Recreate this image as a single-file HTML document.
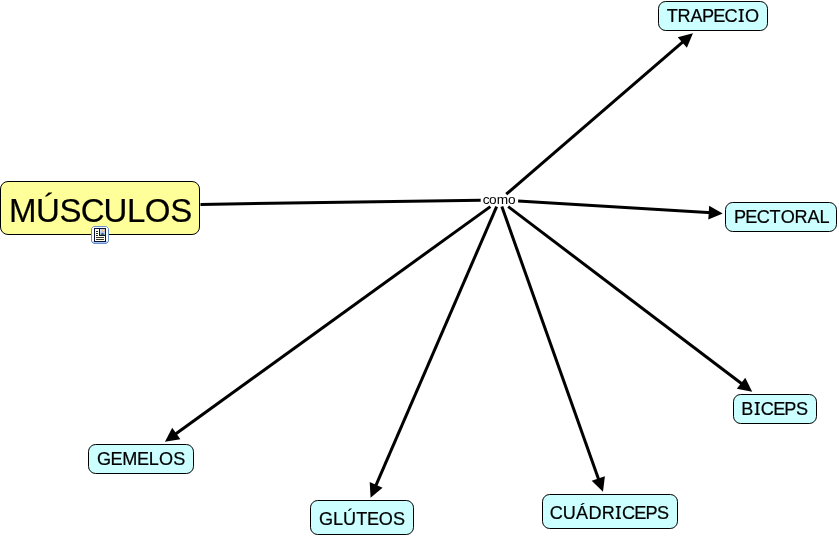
<!DOCTYPE html>
<html><head><meta charset="utf-8"><style>
html,body{margin:0;padding:0;background:#fff;width:839px;height:536px;overflow:hidden}
svg{display:block;will-change:transform}
text{font-family:"Liberation Sans",sans-serif;fill:#000}
</style></head><body>
<svg width="839" height="536" viewBox="0 0 839 536">
<line x1="200.5" y1="204.4" x2="480.70" y2="200.28" stroke="#000" stroke-width="3.0"/>
<line x1="506.23" y1="194.20" x2="684.59" y2="40.48" stroke="#000" stroke-width="3.0"/>
<polygon points="692.93,33.30 686.89,47.74 677.75,37.14" fill="#000"/>
<line x1="518.10" y1="201.12" x2="711.72" y2="212.82" stroke="#000" stroke-width="3.0"/>
<polygon points="722.70,213.48 708.30,219.62 709.15,205.65" fill="#000"/>
<line x1="508.20" y1="206.60" x2="743.43" y2="385.05" stroke="#000" stroke-width="3.0"/>
<polygon points="752.20,391.70 736.81,388.82 745.27,377.66" fill="#000"/>
<line x1="490.36" y1="206.60" x2="173.86" y2="435.26" stroke="#000" stroke-width="3.0"/>
<polygon points="164.95,441.70 172.20,427.83 180.39,439.18" fill="#000"/>
<line x1="496.64" y1="206.60" x2="374.95" y2="487.61" stroke="#000" stroke-width="3.0"/>
<polygon points="370.57,497.70 369.71,482.07 382.56,487.63" fill="#000"/>
<line x1="501.84" y1="206.60" x2="599.30" y2="481.33" stroke="#000" stroke-width="3.0"/>
<polygon points="602.98,491.70 591.70,480.85 604.89,476.17" fill="#000"/>
<text x="482.68 489.06 496.64 508.02" y="203.80" font-size="13.7">como</text>
<rect x="0.5" y="181.5" width="199" height="53" rx="7.5" ry="7.5" fill="#FFFF99" stroke="#000" stroke-width="1"/><text x="8.95 35.97 59.54 80.74 103.62 126.99 144.83 170.20" y="222.00" font-size="33" stroke="#000" stroke-width="0.2">MÚSCULOS</text>
<rect x="658.5" y="1.5" width="109" height="29" rx="7.2" ry="7.2" fill="#CCFFFF" stroke="#000" stroke-width="1"/><text x="666.75 677.54 690.45 702.04 713.15 724.62 738.71 745.06" y="22.00" font-size="18.1" stroke="#000" stroke-width="0.2">TRAPECIO</text><rect x="738.68" y="9.00" width="5.1" height="1.5" fill="#000"/><rect x="738.68" y="20.50" width="5.1" height="1.5" fill="#000"/>
<rect x="725.5" y="202.5" width="111" height="29" rx="7.2" ry="7.2" fill="#CCFFFF" stroke="#000" stroke-width="1"/><text x="734.11 745.22 756.69 769.53 780.64 794.49 807.40 819.57" y="223.00" font-size="18.1" stroke="#000" stroke-width="0.2">PECTORAL</text>
<rect x="733.5" y="394.5" width="83" height="29" rx="7.2" ry="7.2" fill="#CCFFFF" stroke="#000" stroke-width="1"/><text x="741.24 754.73 760.78 773.25 784.36 795.94" y="415.00" font-size="18.1" stroke="#000" stroke-width="0.2">BICEPS</text><rect x="754.69" y="402.00" width="5.1" height="1.5" fill="#000"/><rect x="754.69" y="413.50" width="5.1" height="1.5" fill="#000"/>
<rect x="88.5" y="444.5" width="105" height="29" rx="7.2" ry="7.2" fill="#CCFFFF" stroke="#000" stroke-width="1"/><text x="96.90 110.57 122.34 137.12 148.82 158.91 173.15" y="465.00" font-size="18.1" stroke="#000" stroke-width="0.2">GEMELOS</text>
<rect x="310.5" y="500.5" width="103" height="34" rx="7.2" ry="7.2" fill="#CCFFFF" stroke="#000" stroke-width="1"/><text x="318.98 332.98 343.08 356.21 366.94 378.71 392.95" y="525.00" font-size="18.1" stroke="#000" stroke-width="0.2">GLÚTEOS</text>
<rect x="542.5" y="494.5" width="135" height="34" rx="7.2" ry="7.2" fill="#CCFFFF" stroke="#000" stroke-width="1"/><text x="549.87 562.74 575.98 588.58 601.77 615.84 621.89 634.36 645.47 657.05" y="519.00" font-size="18.1" stroke="#000" stroke-width="0.2">CUÁDRICEPS</text><rect x="615.80" y="506.00" width="5.1" height="1.5" fill="#000"/><rect x="615.80" y="517.50" width="5.1" height="1.5" fill="#000"/>
<g shape-rendering="crispEdges">
<polygon points="93.5,226.5 106.5,226.5 108.5,228.5 108.5,241.5 106.5,243.5 93.5,243.5 91.5,241.5 91.5,228.5" fill="#f7faff" stroke="#6d92c9" stroke-width="1" shape-rendering="auto"/>
<rect x="93" y="242" width="14" height="1" fill="#9fc3ee"/>
<rect x="92" y="241" width="16" height="1" fill="#b8d3f3"/>
<rect x="94" y="228" width="12" height="14" fill="#0b1235"/>
<rect x="95" y="229" width="10" height="12" fill="#fffff4"/>
<rect x="96" y="231" width="2" height="1" fill="#2a2a2a"/>
<rect x="96" y="233" width="2" height="1" fill="#2a2a2a"/>
<rect x="96" y="235" width="2" height="1" fill="#2a2a2a"/>
<rect x="96" y="237" width="8" height="1" fill="#3a3428"/>
<rect x="96" y="239" width="8" height="1" fill="#3a3428"/>
<rect x="99" y="229" width="1" height="7" fill="#0b1235"/>
<rect x="99" y="235" width="6" height="1" fill="#0b1235"/>
<rect x="100" y="229" width="1" height="1" fill="#dce9fb"/>
<rect x="101" y="229" width="1" height="1" fill="#c9dcf6"/>
<rect x="102" y="229" width="1" height="1" fill="#d9c8c0"/>
<rect x="103" y="229" width="1" height="1" fill="#e9c4a4"/>
<rect x="104" y="229" width="1" height="1" fill="#d8ccc8"/>
<rect x="100" y="230" width="1" height="1" fill="#d6e6fb"/>
<rect x="101" y="230" width="1" height="1" fill="#c5d8f4"/>
<rect x="102" y="230" width="1" height="1" fill="#e6bc98"/>
<rect x="103" y="230" width="1" height="1" fill="#f6dcbc"/>
<rect x="104" y="230" width="1" height="1" fill="#e2bc9c"/>
<rect x="100" y="231" width="1" height="1" fill="#cfe0fa"/>
<rect x="101" y="231" width="1" height="1" fill="#bcd2f2"/>
<rect x="102" y="231" width="1" height="1" fill="#d8c0ac"/>
<rect x="103" y="231" width="1" height="1" fill="#e4bc9c"/>
<rect x="104" y="231" width="1" height="1" fill="#d0c8cc"/>
<rect x="100" y="232" width="1" height="1" fill="#bcd2f4"/>
<rect x="101" y="232" width="1" height="1" fill="#b4ccf0"/>
<rect x="102" y="232" width="1" height="1" fill="#aac4ec"/>
<rect x="103" y="232" width="1" height="1" fill="#b4ccf0"/>
<rect x="104" y="232" width="1" height="1" fill="#bcd2f2"/>
<rect x="100" y="233" width="1" height="1" fill="#b4cce8"/>
<rect x="101" y="233" width="1" height="1" fill="#7896c8"/>
<rect x="102" y="233" width="1" height="1" fill="#2c4c8c"/>
<rect x="103" y="233" width="1" height="1" fill="#7094c4"/>
<rect x="104" y="233" width="1" height="1" fill="#b0c8e4"/>
<rect x="100" y="234" width="1" height="1" fill="#98b8b0"/>
<rect x="101" y="234" width="1" height="1" fill="#3c7c44"/>
<rect x="102" y="234" width="1" height="1" fill="#2c6c34"/>
<rect x="103" y="234" width="1" height="1" fill="#3c8044"/>
<rect x="104" y="234" width="1" height="1" fill="#90b4a8"/>
</g>
</svg>
</body></html>
